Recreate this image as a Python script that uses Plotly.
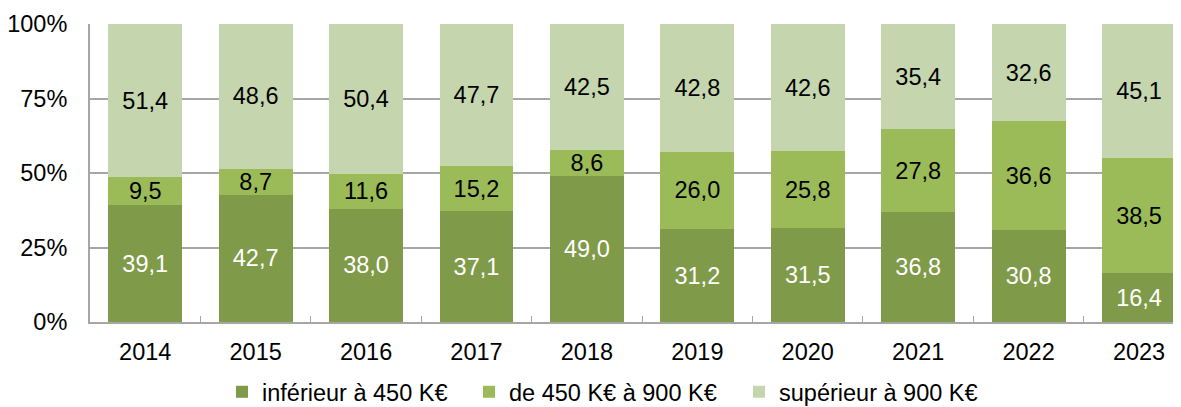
import plotly.graph_objects as go

years = ["2014", "2015", "2016", "2017", "2018", "2019", "2020", "2021", "2022", "2023"]
low = [39.1, 42.7, 38.0, 37.1, 49.0, 31.2, 31.5, 36.8, 30.8, 16.4]
mid = [9.5, 8.7, 11.6, 15.2, 8.6, 26.0, 25.8, 27.8, 36.6, 38.5]
high = [51.4, 48.6, 50.4, 47.7, 42.5, 42.8, 42.6, 35.4, 32.6, 45.1]
names = ["inférieur à 450 K€", "de 450 K€ à 900 K€", "supérieur à 900 K€"]
y_ticks = [0, 25, 50, 75, 100]
y_labels = ["0%", "25%", "50%", "75%", "100%"]
colors = ["#7F9A48", "#9BBB59", "#C5D6AF"]
text_colors = ["white", "black", "black"]

FONT = "Liberation Sans, Arial, sans-serif"
FS = 23.5

# page body has an 8px default margin; figure is sized to fit the window
W, H = 1173, 399
ML, MR, MT, MB = 82, 0, 16, 85
plot_w = W - ML - MR
plot_h = H - MT - MB

legend_x_screen = [222, 469, 739]  # left edge of each legend entry (screen px)
legend_keys = ["legend", "legend2", "legend3"]

fig = go.Figure()
for vals, name, col, tc, lk in zip([low, mid, high], names, colors, text_colors, legend_keys):
    fig.add_trace(go.Bar(
        x=years, y=vals, name=name, legend=lk,
        marker=dict(color=col, line=dict(width=0)),
        texttemplate="%{y:.1f}", textposition="inside",
        insidetextanchor="middle", constraintext="none",
        textfont=dict(color=tc, size=FS, family=FONT),
        hoverinfo="skip",
    ))

legend_common = dict(orientation="h", yanchor="middle", xanchor="left",
                     y=-(392 - 8 - (H - MB)) / plot_h,
                     font=dict(size=FS, family=FONT, color="black"),
                     itemwidth=30, bgcolor="rgba(0,0,0,0)", borderwidth=0)
legends = {}
for lk, xs in zip(legend_keys, legend_x_screen):
    legends[lk] = dict(legend_common, x=(xs - 8 - ML) / plot_w)

fig.update_layout(
    barmode="stack", bargap=0.33,
    width=W, height=H,
    margin=dict(l=ML, r=MR, t=MT, b=MB, autoexpand=False),
    plot_bgcolor="white", paper_bgcolor="white",
    separators=", ",
    font=dict(family=FONT, size=FS, color="black"),
    showlegend=True,
    xaxis=dict(range=[-0.5, 9.38], showline=True, linecolor="#A6A6A6", linewidth=2,
               ticks="inside", ticklen=6, tickcolor="#A6A6A6", tickson="boundaries",
               tickfont=dict(size=FS, family=FONT), ticklabelstandoff=8, fixedrange=True),
    yaxis=dict(range=[0, 100], tickmode="array", tickvals=y_ticks, ticktext=y_labels,
               showline=True, linecolor="#A6A6A6", linewidth=2,
               showgrid=True, gridcolor="#A6A6A6", gridwidth=2, zeroline=False,
               tickfont=dict(size=FS, family=FONT), ticklabelstandoff=16, fixedrange=True),
    **legends,
)

fig.write_html("out.html")
